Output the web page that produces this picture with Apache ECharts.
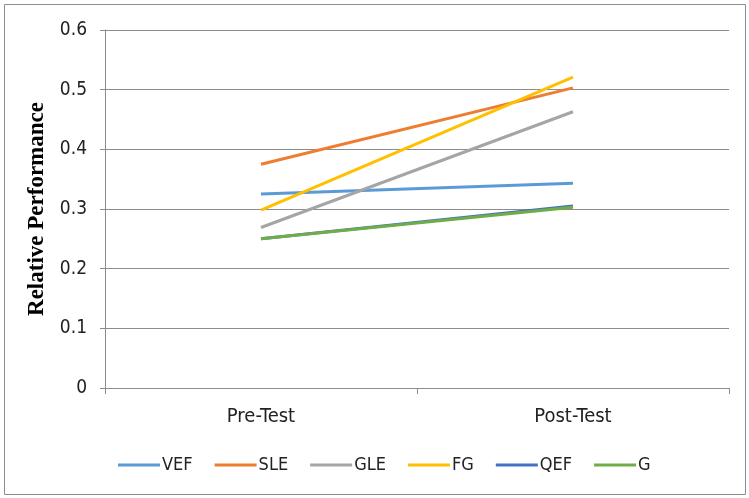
<!DOCTYPE html>
<html>
<head>
<meta charset="utf-8">
<script src="https://cdn.jsdelivr.net/npm/echarts@6/dist/echarts.min.js"></script>
<style>
  html, body { margin: 0; padding: 0; background: #fff; }
  #chart { width: 749px; height: 498px; }
</style>
</head>
<body>
<div id="chart"></div>
<script>
// Test phases on the category axis
const categories = ['Pre-Test', 'Post-Test'];

// Relative performance per method, pre vs post
const VEF = [0.325, 0.343];
const SLE = [0.375, 0.503];
const GLE = [0.269, 0.463];
const FG  = [0.298, 0.521];
const QEF = [0.250, 0.305];
const G   = [0.250, 0.303];

const seriesDefs = [
  { name: 'VEF', data: VEF, color: '#5B9BD5' },
  { name: 'SLE', data: SLE, color: '#ED7D31' },
  { name: 'GLE', data: GLE, color: '#A5A5A5' },
  { name: 'FG',  data: FG,  color: '#FFC000' },
  { name: 'QEF', data: QEF, color: '#4472C4' },
  { name: 'G',   data: G,   color: '#70AD47' }
];

const labelFont = '"DejaVu Sans Condensed", "Liberation Sans Narrow", sans-serif';
const axisGray = '#8C8C8C';

const chart = echarts.init(document.getElementById('chart'), null, { renderer: 'canvas' });

chart.setOption({
  animation: false,
  backgroundColor: '#ffffff',
  graphic: [{
    type: 'rect',
    shape: { x: 4.5, y: 4.5, width: 741, height: 490 },
    style: { fill: 'none', stroke: '#8C8C8C', lineWidth: 1 },
    silent: true
  }],
  grid: { left: 105, right: 20, top: 30, bottom: 110 },
  legend: {
    bottom: 19,
    left: 113,
    itemWidth: 42,
    itemHeight: 3,
    itemGap: 22,
    icon: 'rect',
    textStyle: { fontFamily: labelFont, fontSize: 18, color: '#222', padding: [0, 0, 0, -3] },
    data: seriesDefs.map(s => s.name)
  },
  xAxis: {
    type: 'category',
    data: categories,
    boundaryGap: true,
    axisLine: { lineStyle: { color: axisGray, width: 1 } },
    axisTick: { show: true, length: 6, lineStyle: { color: axisGray } },
    axisLabel: { fontFamily: labelFont, fontSize: 20, color: '#222', margin: 19 }
  },
  yAxis: {
    type: 'value',
    min: 0,
    max: 0.6,
    interval: 0.1,
    name: 'Relative Performance',
    nameLocation: 'middle',
    nameGap: 55,
    nameTextStyle: {
      fontFamily: '"Liberation Serif", "Times New Roman", serif',
      fontWeight: 'bold',
      fontSize: 23,
      color: '#000'
    },
    axisLine: { show: true, lineStyle: { color: axisGray, width: 1 } },
    axisTick: { show: true, length: 5, lineStyle: { color: axisGray } },
    axisLabel: {
      fontFamily: labelFont,
      fontSize: 19,
      color: '#222',
      margin: 18,
      formatter: v => (Math.round(v * 10) / 10).toString()
    },
    splitLine: { show: true, lineStyle: { color: axisGray, width: 1 } }
  },
  series: seriesDefs.map(s => ({
    name: s.name,
    type: 'line',
    data: s.data,
    symbol: 'none',
    lineStyle: { color: s.color, width: 3 },
    itemStyle: { color: s.color }
  }))
});
</script>
</body>
</html>
